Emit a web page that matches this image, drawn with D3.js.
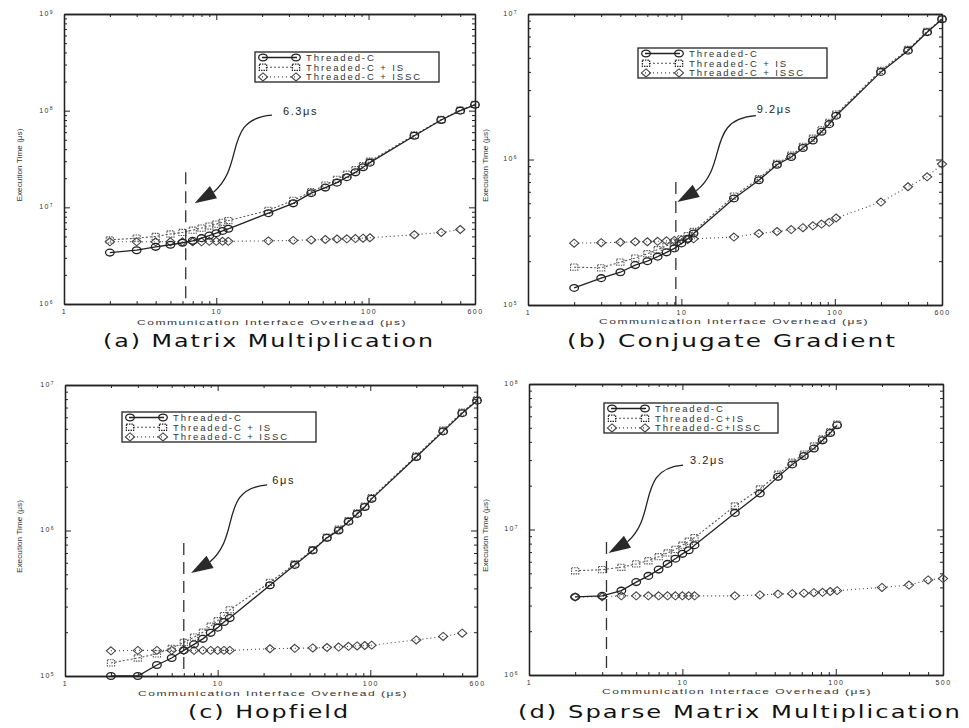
<!DOCTYPE html>
<html lang="en">
<head>
<meta charset="UTF-8">
<title>Execution time vs communication interface overhead</title>
<script src="https://cdn.jsdelivr.net/npm/d3@7"></script>
<style>
  body { margin: 0; background: #fff; }
  text { font-family: "Liberation Sans", Arial, sans-serif; fill: #222; }
  .axis path, .axis line { stroke: #222; }
  .axis path { stroke-width: 1.3px; }
  .axis text { font-size: 7px; letter-spacing: 1.4px; fill: #333; }
  .legend rect { fill: #fff; stroke: #222; stroke-width: 1.3px; }
  .legend text { font-size: 9.5px; letter-spacing: 1.9px; fill: #333; }
  .mark { fill: none; }
  .title { font-family: "DejaVu Sans", sans-serif; }
</style>
</head>
<body>
<svg width="969" height="728"></svg>
<script>
// communication interface overhead (µs), shared by every panel
const overhead = [2, 3, 4, 5, 6, 7, 8, 9, 10, 11, 12, 22, 32, 42, 52, 62, 72, 82, 92, 102, 200, 300, 400, 500];

// (a) Matrix Multiplication, execution time (µs)
const matmulTC   = [3.4e6, 3.6e6, 3.9e6, 4.1e6, 4.3e6, 4.5e6, 4.8e6, 5.1e6, 5.4e6, 5.7e6, 6.0e6, 8.7e6, 1.1e7, 1.4e7, 1.6e7, 1.8e7, 2.05e7, 2.3e7, 2.6e7, 2.9e7, 5.5e7, 8.0e7, 1.0e8, 1.15e8];
const matmulIS   = [4.6e6, 4.8e6, 5.0e6, 5.3e6, 5.5e6, 5.8e6, 6.1e6, 6.4e6, 6.7e6, 7.0e6, 7.3e6, 9.3e6, 1.18e7, 1.45e7, 1.7e7, 1.95e7, 2.2e7, 2.45e7, 2.7e7, 3.0e7, 5.6e7, 8.1e7, 1.01e8, 1.16e8];
const matmulISSC = [4.4e6, 4.4e6, 4.4e6, 4.4e6, 4.4e6, 4.4e6, 4.4e6, 4.45e6, 4.45e6, 4.45e6, 4.45e6, 4.5e6, 4.55e6, 4.6e6, 4.65e6, 4.7e6, 4.72e6, 4.75e6, 4.8e6, 4.85e6, 5.2e6, 5.5e6, 5.9e6, null];

// (b) Conjugate Gradient
const cgTC   = [1.31e5, 1.53e5, 1.68e5, 1.88e5, 2.0e5, 2.15e5, 2.3e5, 2.45e5, 2.65e5, 2.85e5, 3.1e5, 5.4e5, 7.2e5, 9.2e5, 1.04e6, 1.2e6, 1.35e6, 1.55e6, 1.75e6, 2.0e6, 4.0e6, 5.6e6, 7.5e6, 9.2e6];
const cgIS   = [1.82e5, 1.8e5, 1.97e5, 2.1e5, 2.25e5, 2.4e5, 2.55e5, 2.7e5, 2.85e5, 3.0e5, 3.2e5, 5.6e5, 7.4e5, 9.4e5, 1.07e6, 1.23e6, 1.4e6, 1.6e6, 1.8e6, 2.05e6, 4.1e6, 5.7e6, 7.6e6, 9.3e6];
const cgISSC = [2.66e5, 2.68e5, 2.7e5, 2.72e5, 2.72e5, 2.74e5, 2.76e5, 2.78e5, 2.8e5, 2.82e5, 2.85e5, 2.93e5, 3.1e5, 3.2e5, 3.3e5, 3.4e5, 3.5e5, 3.6e5, 3.7e5, 3.96e5, 5.1e5, 6.5e5, 7.6e5, 9.3e5];

// (c) Hopfield
const hopTC   = [1.0e5, 1.0e5, 1.19e5, 1.33e5, 1.5e5, 1.65e5, 1.8e5, 1.98e5, 2.15e5, 2.35e5, 2.5e5, 4.2e5, 5.8e5, 7.3e5, 8.9e5, 1.0e6, 1.15e6, 1.3e6, 1.45e6, 1.65e6, 3.2e6, 4.8e6, 6.4e6, 7.8e6];
const hopIS   = [1.23e5, 1.33e5, 1.42e5, 1.55e5, 1.7e5, 1.85e5, 2.0e5, 2.2e5, 2.4e5, 2.6e5, 2.85e5, 4.4e5, 5.9e5, 7.4e5, 9.0e5, 1.02e6, 1.17e6, 1.32e6, 1.47e6, 1.68e6, 3.25e6, 4.9e6, 6.5e6, 7.9e6];
const hopISSC = [1.49e5, 1.5e5, 1.5e5, 1.5e5, 1.5e5, 1.5e5, 1.5e5, 1.5e5, 1.5e5, 1.5e5, 1.5e5, 1.54e5, 1.55e5, 1.56e5, 1.57e5, 1.58e5, 1.6e5, 1.61e5, 1.62e5, 1.63e5, 1.77e5, 1.87e5, 1.97e5, null];

// (d) Sparse Matrix Multiplication
const spmTC   = [3.44e6, 3.5e6, 3.8e6, 4.35e6, 4.8e6, 5.3e6, 5.8e6, 6.3e6, 6.8e6, 7.2e6, 7.8e6, 1.3e7, 1.77e7, 2.3e7, 2.8e7, 3.2e7, 3.6e7, 4.1e7, 4.6e7, 5.2e7, null, null, null, null];
const spmIS   = [5.2e6, 5.3e6, 5.5e6, 5.8e6, 6.1e6, 6.5e6, 6.9e6, 7.3e6, 7.8e6, 8.3e6, 8.8e6, 1.45e7, 1.9e7, 2.4e7, 2.9e7, 3.3e7, 3.75e7, 4.2e7, 4.7e7, 5.3e7, null, null, null, null];
const spmISSC = [3.44e6, 3.45e6, 3.5e6, 3.5e6, 3.5e6, 3.5e6, 3.5e6, 3.5e6, 3.5e6, 3.5e6, 3.5e6, 3.5e6, 3.55e6, 3.6e6, 3.62e6, 3.65e6, 3.68e6, 3.7e6, 3.75e6, 3.8e6, 4.0e6, 4.15e6, 4.5e6, 4.6e6];

const legendSpaced = ['Threaded-C', 'Threaded-C + IS', 'Threaded-C + ISSC'];
const legendTight  = ['Threaded-C', 'Threaded-C+IS', 'Threaded-C+ISSC'];

// crossover annotations: dashed line position, label, arrow (data units)
const markX      = [6.3, 9.2, 6, 3.2];
const markLabel  = ['6.3μs', '9.2μs', '6μs', '3.2μs'];
const markTop    = [2.3e7, 7e5, 8.2e5, 8.2e6];
const arrowTip   = [[7.2, 1.1e7], [9.4, 5.1e5], [6.7, 5.1e5], [3.3, 6.9e6]];
const arrowStart = [[23.2, 9e7], [30.6, 2.0e6], [21.1, 2.06e6], [10.1, 2.77e7]];
const labelAt    = [[27.4, 9e7], [31, 2.09e6], [22.8, 2.09e6], [11.2, 2.8e7]];

const styles = [
  { shape: 'circle',  dash: null,  color: '#222', width: 1.3 },
  { shape: 'square',  dash: '2,2', color: '#555', width: 1.1 },
  { shape: 'diamond', dash: '1,3', color: '#444', width: 1.1 }
];

const panels = [
  { left: 64, top: 14, right: 475, bottom: 304, yDomain: [1e6, 1e9], xEnd: '600',
    series: [matmulTC, matmulIS, matmulISSC], labels: legendSpaced, legend: [255, 52, 184],
    title: '(a) Matrix Multiplication', titleX: 269, titleY: 347, titleW: 332,
    axisX: 272, axisY: 325, yTitleX: 22 },
  { left: 528, top: 14, right: 942, bottom: 305, yDomain: [1e5, 1e7], xEnd: '600',
    series: [cgTC, cgIS, cgISSC], labels: legendSpaced, legend: [638, 48, 189],
    title: '(b) Conjugate Gradient', titleX: 732, titleY: 347, titleW: 330,
    axisX: 734, axisY: 324, yTitleX: 488 },
  { left: 65, top: 385, right: 477, bottom: 676, yDomain: [1e5, 1e7], xEnd: '600',
    series: [hopTC, hopIS, hopISSC], labels: legendSpaced, legend: [122, 412, 194],
    title: '(c) Hopfield', titleX: 269, titleY: 718, titleW: 162,
    axisX: 273, axisY: 696, yTitleX: 22 },
  { left: 529, top: 384, right: 943, bottom: 675, yDomain: [1e6, 1e8], xEnd: '500',
    series: [spmTC, spmIS, spmISSC], labels: legendTight, legend: [604, 403, 174],
    title: '(d) Sparse Matrix Multiplication', titleX: 740, titleY: 718, titleW: 444,
    axisX: 737, axisY: 694, yTitleX: 488 }
];

const svg = d3.select('svg');

function marker(g, shape, cx, cy, color) {
  if (shape === 'circle') {
    g.append('ellipse').attr('class', 'mark').attr('cx', cx).attr('cy', cy)
      .attr('rx', 4.3).attr('ry', 3.4).attr('stroke', color).attr('stroke-width', 1.3);
  } else if (shape === 'square') {
    g.append('rect').attr('class', 'mark').attr('x', cx - 3.6).attr('y', cy - 3.1)
      .attr('width', 7.2).attr('height', 6.2).attr('stroke', color).attr('stroke-width', 1.1)
      .attr('stroke-dasharray', '1.5,1');
  } else {
    g.append('path').attr('class', 'mark')
      .attr('d', `M${cx},${cy - 4}L${cx + 4.6},${cy}L${cx},${cy + 4}L${cx - 4.6},${cy}Z`)
      .attr('stroke', color).attr('stroke-width', 1.1);
  }
}

function drawPanel(p, i) {
  const g = svg.append('g');
  const x = d3.scaleLog().domain([1, 500]).range([p.left, p.right]);
  const y = d3.scaleLog().domain(p.yDomain).range([p.bottom, p.top]);

  const xMajor = [1, 10, 100];
  const xMinor = [];
  [1, 10, 100].forEach(d => d3.range(2, 10).forEach(m => { if (d * m < 500) xMinor.push(d * m); }));
  const yMajor = [], yMinor = [];
  for (let d = p.yDomain[0]; d <= p.yDomain[1] * 1.001; d *= 10) {
    yMajor.push(d);
    if (d < p.yDomain[1]) d3.range(2, 10).forEach(m => yMinor.push(d * m));
  }

  // inward ticks on all four sides; axis domains form the frame
  const ax = [
    [d3.axisBottom(x), `translate(0,${p.bottom})`],
    [d3.axisTop(x), `translate(0,${p.top})`],
    [d3.axisLeft(y), `translate(${p.left},0)`],
    [d3.axisRight(y), `translate(${p.right},0)`]
  ];
  ax.forEach(([a, tr], k) => {
    const isX = k < 2;
    g.append('g').attr('class', 'axis').attr('transform', tr)
      .call(a.tickValues(isX ? xMinor : yMinor).tickSize(-3).tickSizeOuter(0).tickFormat(''));
    g.append('g').attr('class', 'axis').attr('transform', tr)
      .call(a.tickValues(isX ? xMajor : yMajor).tickSize(-6).tickSizeOuter(0).tickFormat(''));
  });

  // x tick labels
  g.append('g').attr('class', 'axis').attr('transform', `translate(0,${p.bottom})`)
    .call(d3.axisBottom(x).tickValues([1, 10, 100, 500]).tickSize(0).tickPadding(5)
      .tickFormat(v => v === 500 ? p.xEnd : String(v)))
    .call(s => s.select('.domain').remove());

  // y tick labels with superscript exponents
  const yl = g.append('g').attr('class', 'axis').attr('transform', `translate(${p.left},0)`)
    .call(d3.axisLeft(y).tickValues(yMajor).tickSize(0).tickPadding(10).tickFormat(''))
    .call(s => s.select('.domain').remove());
  yl.selectAll('.tick text').each(function (v) {
    const t = d3.select(this).attr('dy', '0.2em');
    t.append('tspan').text('10');
    t.append('tspan').attr('dy', '-0.45em').style('font-size', '5px').text(Math.round(Math.log10(v)));
  });

  // series
  const line = d3.line().defined(d => d[1] != null).x(d => x(d[0])).y(d => y(d[1]));
  p.series.slice().reverse().forEach((vals, rk) => {
    const st = styles[2 - rk];
    const pts = overhead.map((o, j) => [o, vals[j]]);
    g.append('path').datum(pts).attr('d', line).attr('fill', 'none')
      .attr('stroke', st.color).attr('stroke-width', st.width)
      .attr('stroke-dasharray', st.dash);
    const mg = g.append('g');
    pts.filter(d => d[1] != null).forEach(d => marker(mg, st.shape, x(d[0]), y(d[1]), st.color));
  });

  // legend
  const [lx, ly, lw] = p.legend;
  const lg = g.append('g').attr('class', 'legend');
  lg.append('rect').attr('x', lx).attr('y', ly).attr('width', lw).attr('height', 30);
  p.labels.forEach((lab, k) => {
    const st = styles[k];
    const ry = ly + 5.5 + k * 9.7;
    lg.append('line').attr('x1', lx + 7).attr('x2', lx + 42).attr('y1', ry).attr('y2', ry)
      .attr('stroke', st.color).attr('stroke-width', st.width).attr('stroke-dasharray', st.dash);
    marker(lg, st.shape, lx + 8, ry, st.color);
    marker(lg, st.shape, lx + 41, ry, st.color);
    lg.append('text').attr('x', lx + 51).attr('y', ry + 3.4).text(lab);
  });

  // crossover annotation
  g.append('line').attr('x1', x(markX[i])).attr('x2', x(markX[i]))
    .attr('y1', y(markTop[i])).attr('y2', p.bottom)
    .attr('stroke', '#333').attr('stroke-width', 1.3).attr('stroke-dasharray', '12,7');
  const tx = x(arrowTip[i][0]), ty = y(arrowTip[i][1]);
  const sx = x(arrowStart[i][0]), sy = y(arrowStart[i][1]);
  const ang = Math.atan2(-13, 22);
  const hl = 22, hw = 7;
  const bx = tx + hl * Math.cos(ang), by = ty + hl * Math.sin(ang);
  const W = sx - bx, H = by - sy;
  g.append('path')
    .attr('d', `M${sx},${sy}C${sx - 0.85 * W},${sy + 0.05 * H} ${bx + 0.55 * W},${by - 0.35 * H} ${bx},${by}`)
    .attr('fill', 'none').attr('stroke', '#222').attr('stroke-width', 1.3);
  const nx = -Math.sin(ang), ny = Math.cos(ang);
  g.append('path')
    .attr('d', `M${tx},${ty}L${bx + nx * hw},${by + ny * hw}L${bx - nx * hw},${by - ny * hw}Z`)
    .attr('fill', '#2a2a2a');
  g.append('text').attr('x', x(labelAt[i][0])).attr('y', y(labelAt[i][1]))
    .style('font-size', '11px').style('letter-spacing', '1.6px').text(markLabel[i]);

  // titles
  g.append('text').attr('x', p.axisX).attr('y', p.axisY).attr('text-anchor', 'middle')
    .style('font-size', '8px').style('letter-spacing', '1px')
    .attr('textLength', 270).attr('lengthAdjust', 'spacingAndGlyphs')
    .style('fill', '#333').text('Communication Interface Overhead (μs)');
  g.append('text').attr('transform', `translate(${p.yTitleX},${(p.top + p.bottom) / 2 + 6}) rotate(-90)`)
    .attr('text-anchor', 'middle').style('font-size', '7.5px')
    .attr('textLength', 73).attr('lengthAdjust', 'spacingAndGlyphs')
    .style('fill', '#333').text('Execution Time (μs)');
  g.append('text').attr('class', 'title').attr('x', p.titleX).attr('y', p.titleY)
    .attr('text-anchor', 'middle').style('font-size', '18px').style('letter-spacing', '1.5px')
    .attr('textLength', p.titleW).attr('lengthAdjust', 'spacingAndGlyphs')
    .style('fill', '#111').text(p.title);
}

panels.forEach(drawPanel);
</script>
</body>
</html>
